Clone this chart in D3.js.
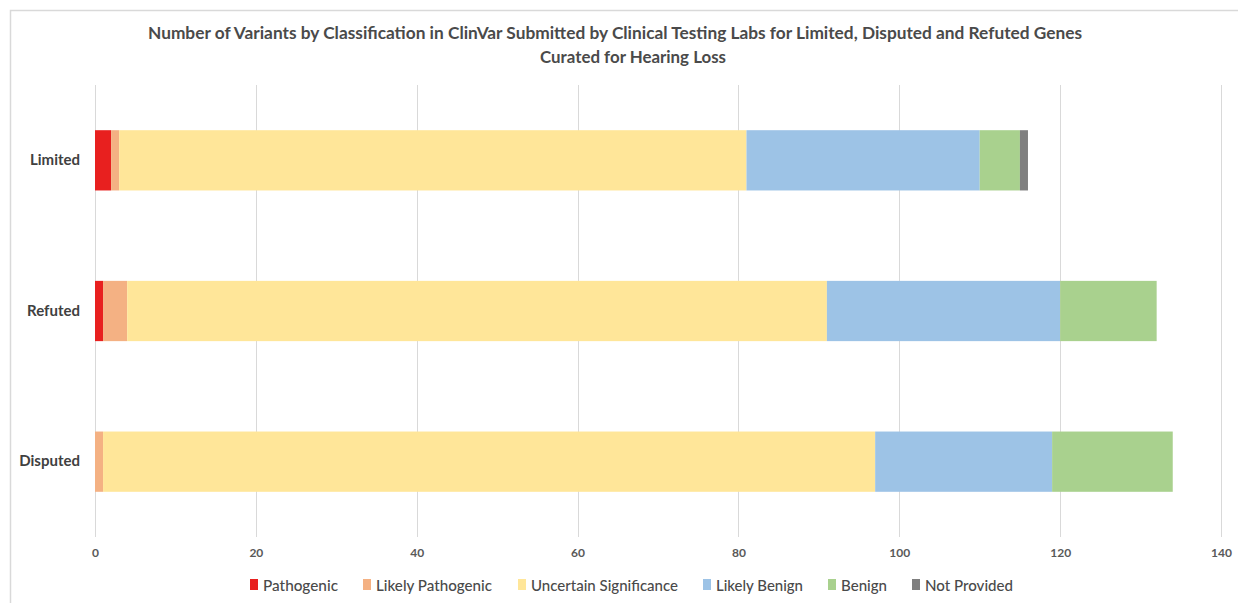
<!DOCTYPE html>
<html>
<head>
<meta charset="utf-8">
<script src="https://cdn.jsdelivr.net/npm/d3@7"></script>
<style>
  body { margin: 0; background: #fff; }
  svg { display: block; font-family: Lato, "Open Sans", sans-serif; }
</style>
</head>
<body>
<svg id="chart" width="1238" height="603"></svg>
<script>
const categories = ["Limited", "Refuted", "Disputed"];
const seriesNames = ["Pathogenic", "Likely Pathogenic", "Uncertain Significance", "Likely Benign", "Benign", "Not Provided"];
const pathogenic = [2, 1, 0];
const likelyPathogenic = [1, 3, 1];
const uncertainSignificance = [78, 87, 96];
const likelyBenign = [29, 29, 22];
const benign = [5, 12, 15];
const notProvided = [1, 0, 0];
const xTicks = [0, 20, 40, 60, 80, 100, 120, 140];
const colors = ["#E8201F", "#F4B183", "#FFE699", "#9DC3E6", "#A9D18E", "#7F7F7F"];
const titleLines = ["Number of Variants by Classification in ClinVar Submitted by Clinical Testing Labs for Limited, Disputed and Refuted Genes", "Curated for Hearing Loss"];

const seriesValues = [pathogenic, likelyPathogenic, uncertainSignificance, likelyBenign, benign, notProvided];
const rows = categories.map((c, i) => {
  const r = { category: c };
  seriesNames.forEach((s, j) => r[s] = seriesValues[j][i]);
  return r;
});

const svg = d3.select("#chart");

// frame
svg.append("path").attr("d", "M10.5,603 L10.5,10.5 L1238,10.5")
  .attr("fill", "none").attr("stroke", "#d9d9d9").attr("stroke-width", 1.5);

const x = d3.scaleLinear().domain([0, 140]).range([95, 1221]);
const y = d3.scaleBand().domain(categories).range([85, 537]).paddingInner(0.6).paddingOuter(0.3);

// gridlines
svg.append("g").selectAll("line").data(xTicks).join("line")
  .attr("x1", d => Math.round(x(d)) + 0.5).attr("x2", d => Math.round(x(d)) + 0.5)
  .attr("y1", 85).attr("y2", 537)
  .attr("stroke", "#d9d9d9").attr("stroke-width", 1);

// bars
const stack = d3.stack().keys(seriesNames)(rows);
svg.append("g").selectAll("g").data(stack).join("g")
  .attr("fill", (d, i) => colors[i])
  .selectAll("rect").data(d => d).join("rect")
  .attr("x", d => x(d[0]))
  .attr("width", d => Math.max(0, x(d[1]) - x(d[0])))
  .attr("y", d => y(d.data.category))
  .attr("height", y.bandwidth());

// x axis
const xAxis = svg.append("g").attr("transform", "translate(0,548)")
  .call(d3.axisBottom(x).tickValues(xTicks).tickSize(0).tickPadding(0));
xAxis.select(".domain").remove();
xAxis.selectAll("text").attr("font-size", 12).attr("font-weight", 700).attr("fill", "#595959")
  .attr("font-family", "Lato, sans-serif");

// y axis
const yAxis = svg.append("g").attr("transform", "translate(80,0)")
  .call(d3.axisLeft(y).tickSize(0).tickPadding(0));
yAxis.select(".domain").remove();
yAxis.selectAll("text").attr("font-size", 15).attr("font-weight", 700).attr("fill", "#404040")
  .attr("font-family", "Lato, sans-serif");

// title
const titleTargets = [[148, 1082], [540, 726]];
titleLines.forEach((t, i) => {
  const [a, b] = titleTargets[i];
  svg.append("text").attr("x", (a + b) / 2).attr("y", 39 + i * 24)
    .attr("text-anchor", "middle").attr("font-size", 17).attr("font-weight", 700)
    .attr("fill", "#4a4a4a").attr("textLength", b - a).attr("lengthAdjust", "spacingAndGlyphs")
    .text(t);
});

// legend
const legendX = [250, 363, 518, 703, 828, 912];
const legendTextEnd = [338, 492, 678, 803, 887, 1013];
const lg = svg.append("g");
seriesNames.forEach((s, i) => {
  lg.append("rect").attr("x", legendX[i]).attr("y", 579).attr("width", 8).attr("height", 11).attr("fill", colors[i]);
  const tx = legendX[i] + 13;
  lg.append("text").attr("x", tx).attr("y", 590.5)
    .attr("font-size", 15).attr("fill", "#4a4a4a").attr("font-weight", 500)
    .attr("textLength", legendTextEnd[i] - tx).attr("lengthAdjust", "spacingAndGlyphs")
    .text(s);
});
</script>
</body>
</html>
